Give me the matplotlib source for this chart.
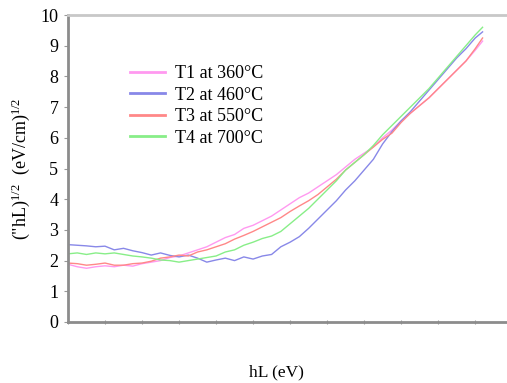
import matplotlib
matplotlib.use("Agg")
import matplotlib.pyplot as plt

plt.rcParams['font.family'] = ['Liberation Serif', 'DejaVu Serif']
plt.rcParams['mathtext.fontset'] = 'custom'
plt.rcParams['mathtext.rm'] = 'Liberation Serif'
plt.rcParams['mathtext.it'] = 'Liberation Serif:italic'

x = [0, 0.25, 0.5, 0.75, 1, 1.25, 1.5, 1.75, 2, 2.25, 2.5, 2.75, 3, 3.25, 3.5, 3.75,
     4, 4.25, 4.5, 4.75, 5, 5.25, 5.5, 5.75, 6, 6.25, 6.5, 6.75, 7, 7.25, 7.5, 7.75,
     8, 8.25, 8.5, 8.75, 9, 9.25, 9.5, 9.75, 10, 10.25, 10.5, 10.75, 11, 11.2]

t1 = [1.88, 1.8, 1.75, 1.8, 1.83, 1.8, 1.85, 1.82, 1.9, 1.95, 2.0, 2.1, 2.15, 2.25, 2.35, 2.45,
      2.6, 2.75, 2.85, 3.05, 3.15, 3.3, 3.45, 3.65, 3.85, 4.05, 4.2, 4.4, 4.6, 4.8, 5.05, 5.3,
      5.5, 5.7, 6.0, 6.25, 6.55, 6.8, 7.05, 7.3, 7.6, 7.9, 8.2, 8.5, 8.85, 9.15]
t2 = [2.52, 2.5, 2.48, 2.45, 2.47, 2.35, 2.4, 2.32, 2.26, 2.18, 2.25, 2.17, 2.12, 2.18, 2.08, 1.95,
      2.02, 2.08, 2.0, 2.12, 2.05, 2.15, 2.2, 2.45, 2.6, 2.78, 3.05, 3.35, 3.65, 3.95, 4.3, 4.6,
      4.95, 5.3, 5.8, 6.2, 6.55, 6.85, 7.2, 7.55, 7.9, 8.25, 8.6, 8.9, 9.25, 9.45]
t3 = [1.92, 1.9, 1.85, 1.88, 1.92, 1.85, 1.85, 1.9, 1.92, 1.98, 2.08, 2.12, 2.18, 2.15, 2.28, 2.35,
      2.45, 2.55, 2.7, 2.82, 2.95, 3.1, 3.25, 3.4, 3.6, 3.78, 3.95, 4.15, 4.4, 4.65, 4.95, 5.2,
      5.45, 5.7, 5.95, 6.15, 6.5, 6.8, 7.05, 7.3, 7.6, 7.9, 8.2, 8.5, 8.9, 9.25]
t4 = [2.22, 2.25, 2.2, 2.25, 2.22, 2.25, 2.2, 2.15, 2.12, 2.08, 2.02, 2.0, 1.95, 2.0, 2.05, 2.1,
      2.15, 2.28, 2.35, 2.5, 2.6, 2.72, 2.8, 2.95, 3.2, 3.45, 3.7, 4.0, 4.3, 4.6, 4.95, 5.2,
      5.45, 5.75, 6.1, 6.4, 6.7, 7.0, 7.3, 7.6, 7.95, 8.3, 8.65, 9.0, 9.35, 9.6]

labels = ["T1 at 360°C", "T2 at 460°C", "T3 at 550°C", "T4 at 700°C"]
colors = ["#ff99f0", "#8888e8", "#ff8888", "#88ee88"]
yticks = [0, 1, 2, 3, 4, 5, 6, 7, 8, 9, 10]
xticks = [0, 1, 2, 3, 4, 5, 6, 7, 8, 9, 10, 11]

fig = plt.figure(figsize=(5.07, 3.83), dpi=100)
ax = fig.add_axes([68/507, 1-322/383, 1-68/507, (322-15)/383])

for ys, lab, c in zip([t1, t2, t3, t4], labels, colors):
    ax.plot(x, ys, color=c, lw=1.0, label=lab)

ax.set_xlim(0, 11.86)
ax.set_ylim(0, 10)
ax.set_yticks(yticks)
ax.set_xticks(xticks)
ax.set_xticklabels([])
ax.tick_params(axis='y', labelsize=13, length=3, color='#999999', direction='out', pad=4)
ax.tick_params(axis='x', length=3, color='#999999', direction='inout')

for s in ['left', 'bottom']:
    ax.spines[s].set_color('#8c8c8c')
    ax.spines[s].set_linewidth(2)
ax.spines['top'].set_color('#c8c8c8')
ax.spines['top'].set_linewidth(2)
ax.spines['right'].set_visible(False)

ax.set_ylabel(r'("hL)$^{1/2}$  (eV/cm)$^{1/2}$', fontsize=13, labelpad=6)
fig.text(276/507, 1-372/383, 'hL (eV)', ha='center', va='center', fontsize=12.5)

leg = ax.legend(loc='upper left', bbox_to_anchor=((130-68)/439, (322-65)/307), frameon=False,
                fontsize=13, handlelength=1.95, handletextpad=0.55, labelspacing=0.25,
                borderpad=0, borderaxespad=0)
for line in leg.get_lines():
    line.set_linewidth(2)

fig.savefig('out.png', dpi=100)
